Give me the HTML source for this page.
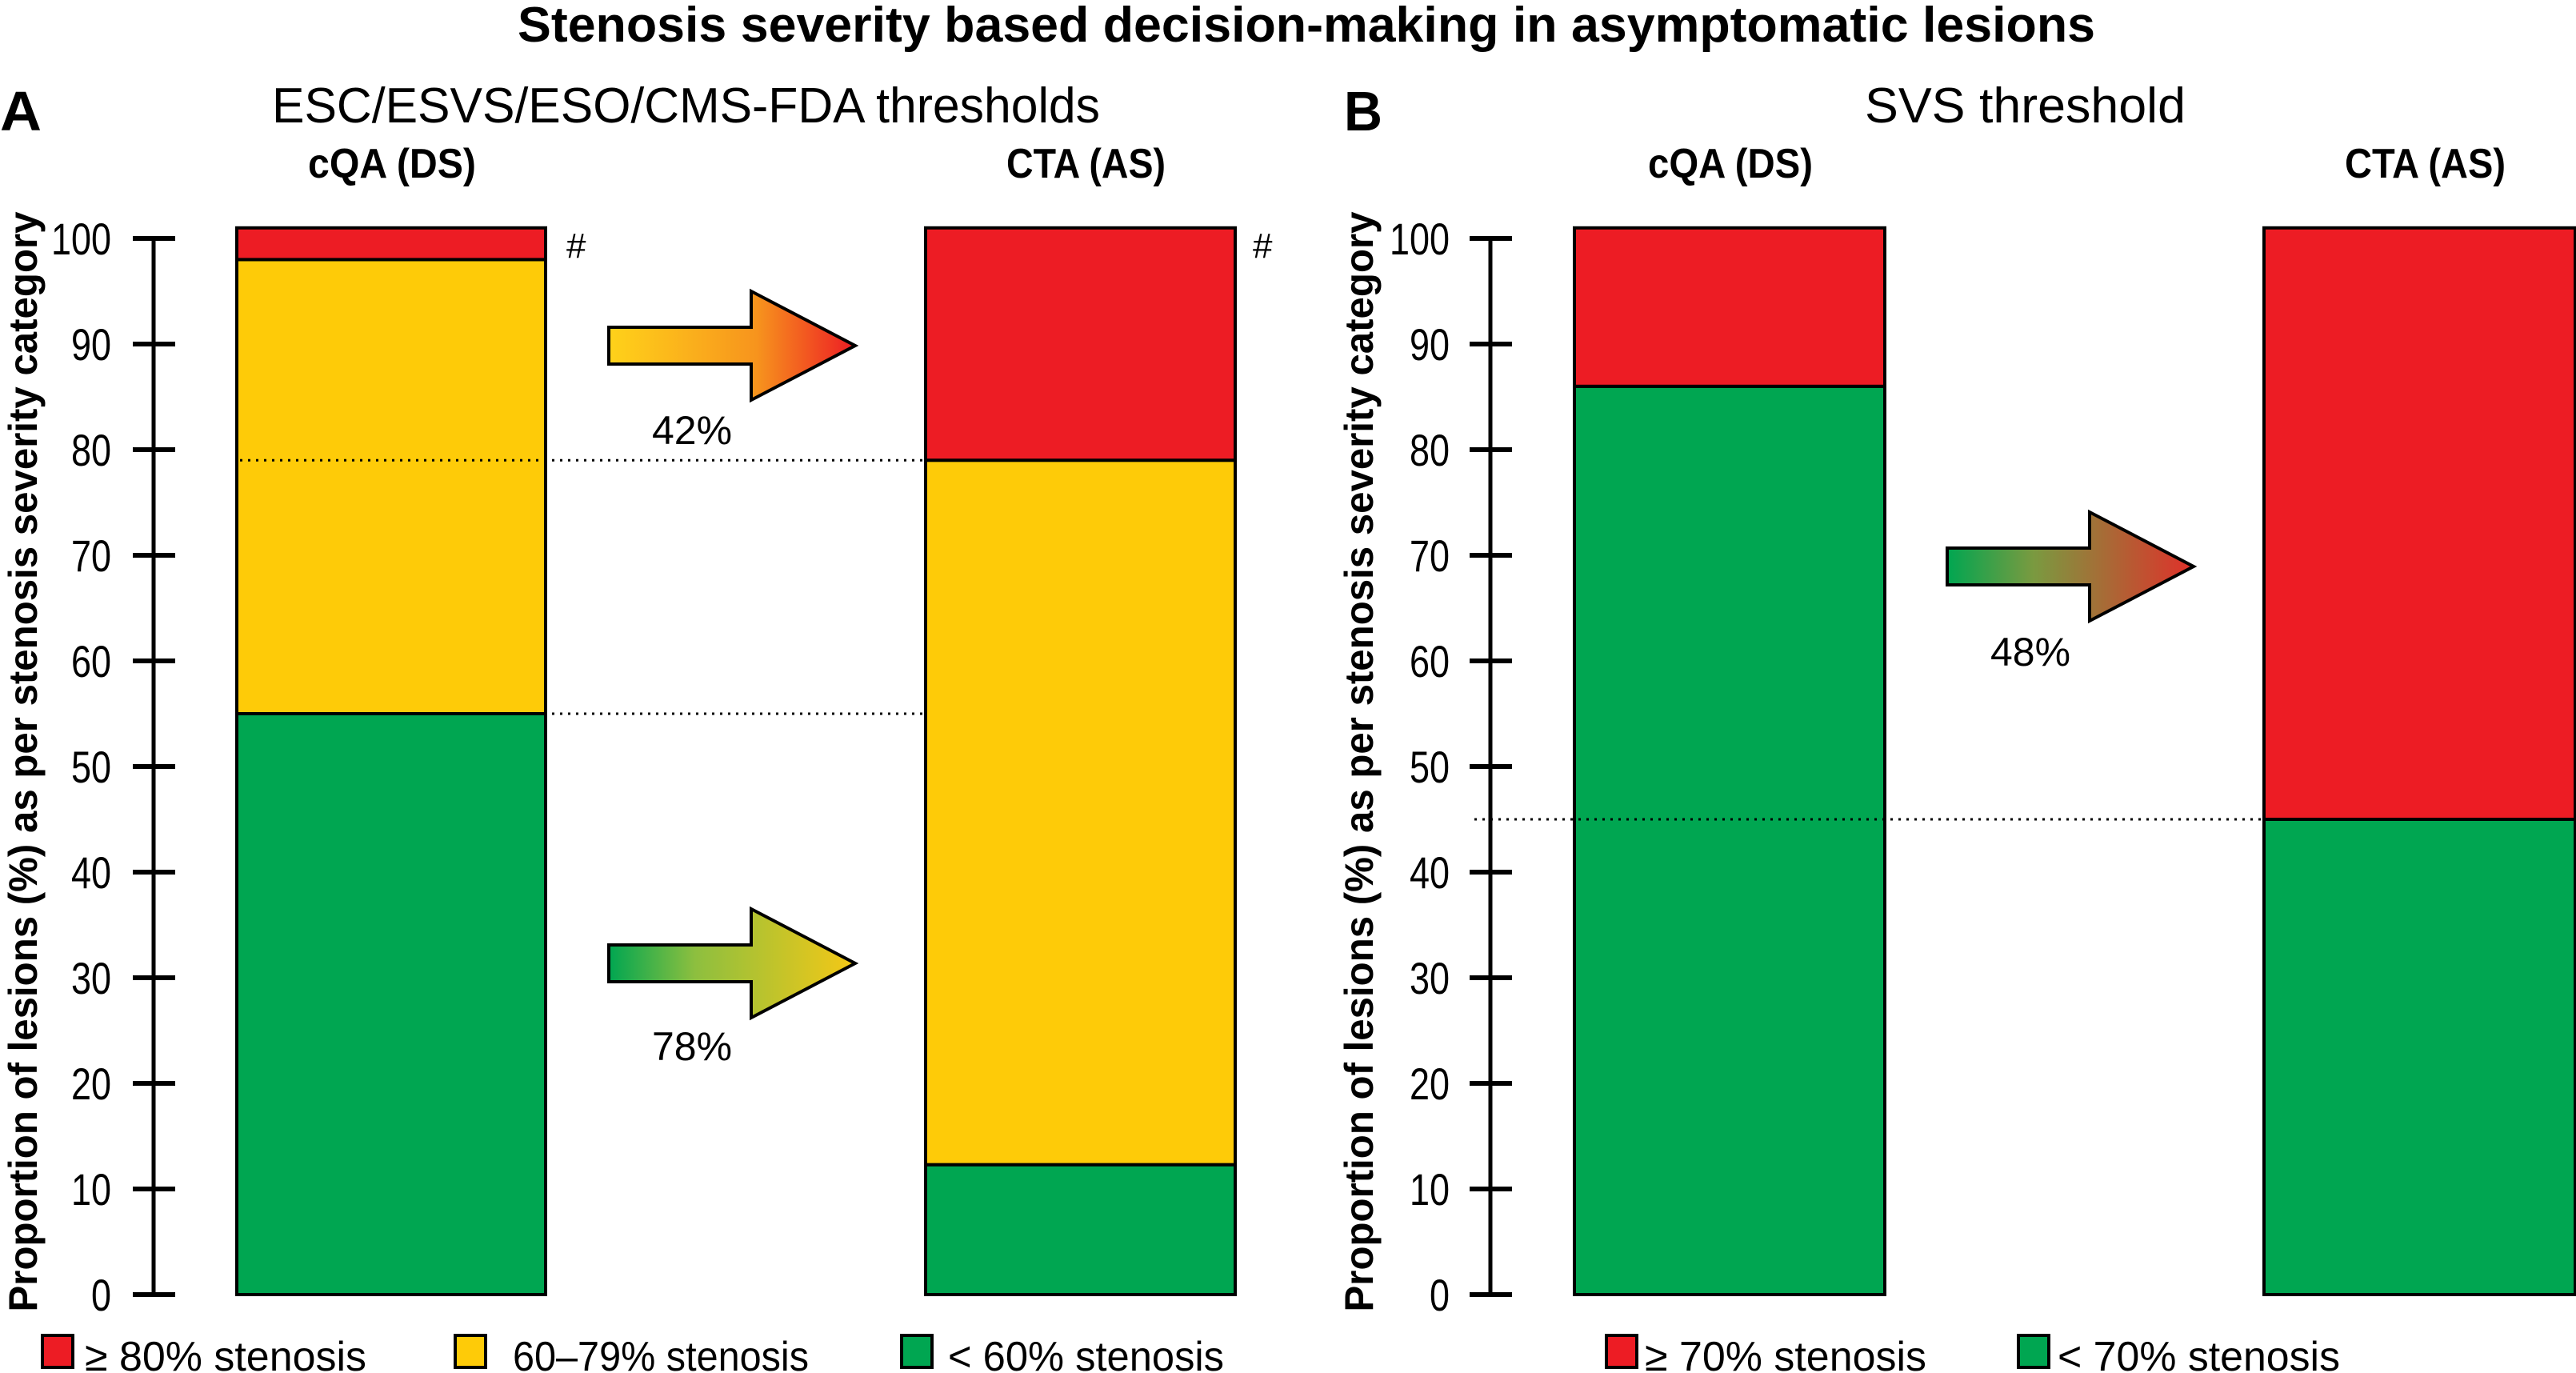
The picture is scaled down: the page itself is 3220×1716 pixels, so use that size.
<!DOCTYPE html>
<html><head><meta charset="utf-8"><style>
html,body{margin:0;padding:0;background:#fff;}
svg{display:block;font-family:"Liberation Sans",sans-serif;}
</style></head><body>
<svg id="chart" width="3220" height="1716" viewBox="0 0 3220 1716" xmlns="http://www.w3.org/2000/svg">
<defs>
<linearGradient id="gA" x1="0" x2="1" y1="0" y2="0"><stop offset="0" stop-color="#FFD21A"/><stop offset="0.6" stop-color="#F7941D"/><stop offset="1" stop-color="#ED1C24"/></linearGradient>
<linearGradient id="gB" x1="0" x2="1" y1="0" y2="0"><stop offset="0" stop-color="#00A651"/><stop offset="0.35" stop-color="#8DBF3F"/><stop offset="1" stop-color="#F5C816"/></linearGradient>
<linearGradient id="gC" x1="0" x2="1" y1="0" y2="0"><stop offset="0" stop-color="#00A651"/><stop offset="0.35" stop-color="#7A9A40"/><stop offset="1" stop-color="#E0302A"/></linearGradient>
</defs>
<text x="647" y="52" font-size="62" font-weight="bold" textLength="1972" lengthAdjust="spacingAndGlyphs">Stenosis severity based decision-making in asymptomatic lesions</text>
<text x="0" y="163" font-size="70" font-weight="bold" textLength="52" lengthAdjust="spacingAndGlyphs">A</text>
<text x="340" y="153" font-size="62" textLength="1035" lengthAdjust="spacingAndGlyphs">ESC/ESVS/ESO/CMS-FDA thresholds</text>
<text x="1680" y="163" font-size="70" font-weight="bold" textLength="48" lengthAdjust="spacingAndGlyphs">B</text>
<text x="2331" y="153" font-size="62" textLength="401" lengthAdjust="spacingAndGlyphs">SVS threshold</text>
<text x="385" y="222" font-size="52" font-weight="bold" textLength="210" lengthAdjust="spacingAndGlyphs">cQA (DS)</text>
<text x="1258" y="222" font-size="52" font-weight="bold" textLength="199" lengthAdjust="spacingAndGlyphs">CTA (AS)</text>
<text x="2060" y="222" font-size="52" font-weight="bold" textLength="206" lengthAdjust="spacingAndGlyphs">cQA (DS)</text>
<text x="2931" y="222" font-size="52" font-weight="bold" textLength="201" lengthAdjust="spacingAndGlyphs">CTA (AS)</text>
<text x="708" y="322" font-size="44">#</text>
<text x="1566" y="322" font-size="44">#</text>
<g id="marks"></g>
</svg>
<script>
const ticks=[0,10,20,30,40,50,60,70,80,90,100];
const catsA=["cQA (DS)","CTA (AS)"];
const greenA=[55,12.3];
const yellowA=[43,66.7];
const redA=[3,22];
const catsB=["cQA (DS)","CTA (AS)"];
const greenB=[86,45];
const redB=[15,56];
const arrowPct=["42%","78%","48%"];
const legendA=["≥ 80% stenosis","60–79% stenosis","< 60% stenosis"];
const legendB=["≥ 70% stenosis","< 70% stenosis"];

const NS="http://www.w3.org/2000/svg";
const g=document.getElementById('marks');
const y0=1618,ppu=13.2;
function Y(v){return y0-v*ppu;}
function el(t,a,txt){const e=document.createElementNS(NS,t);for(const k in a)e.setAttribute(k,a[k]);if(txt!==undefined)e.textContent=txt;g.appendChild(e);return e;}
const RED="#ED1C24",YEL="#FECB08",GRN="#00A651";

function axis(ax,labelRight,titleX,name){
  const l=el('line',{x1:ax,x2:ax,y1:Y(0),y2:Y(100),stroke:'#000','stroke-width':5});
  
  
  ticks.forEach(t=>{
    const tk=el('line',{x1:ax-26,x2:ax+27,y1:Y(t),y2:Y(t),stroke:'#000','stroke-width':6});
    
    
    const tl=el('text',{x:labelRight,y:Y(t)+20,'font-size':56,'text-anchor':'end',textLength:String(t).length*25,lengthAdjust:'spacingAndGlyphs'},t);
    
    
  });
  const tt=el('text',{x:0,y:0,'font-size':50,'font-weight':'bold','text-anchor':'middle',transform:`translate(${titleX},952) rotate(-90)`,textLength:1375,lengthAdjust:'spacingAndGlyphs'},'Proportion of lesions (%) as per stenosis severity category');
  
  
}
axis(192,139,46,'panel-a');
axis(1863,1812,1716,'panel-b');

function seg(x,w,lo,hi,fill,name){
  const r=el('rect',{x:x,y:Y(hi),width:w,height:Y(lo)-Y(hi),fill:fill,stroke:'#000','stroke-width':4});
  
  
}
const xA=[296,1157],xB=[1968,2830],wA=[386,387],wB=[388,389];
catsA.forEach((c,i)=>{
  seg(xA[i],wA[i],0,greenA[i],GRN,'bar-a-'+i+'-green');
  seg(xA[i],wA[i],greenA[i],greenA[i]+yellowA[i],YEL,'bar-a-'+i+'-yellow');
  seg(xA[i],wA[i],greenA[i]+yellowA[i],greenA[i]+yellowA[i]+redA[i],RED,'bar-a-'+i+'-red');
});
catsB.forEach((c,i)=>{
  seg(xB[i],wB[i],0,greenB[i],GRN,'bar-b-'+i+'-green');
  seg(xB[i],wB[i],greenB[i],greenB[i]+redB[i],RED,'bar-b-'+i+'-red');
});
function dotted(x1,x2,v,name){
  const d=el('line',{x1:x1,x2:x2,y1:Y(v),y2:Y(v),stroke:'#000','stroke-width':3,'stroke-dasharray':'3 7'});
  
  
}
dotted(300,1157,greenA[1]+yellowA[1],'dotted-line-79');
dotted(300,1157,greenA[0],'dotted-line-55');
dotted(1843,2830,greenB[1],'dotted-line-45');

function arrow(bx,tx,tip,bh,hh,fill,lbl,ly,name){
  const hx=bx+178;
  const p=el('polygon',{points:`${bx},${tip-bh} ${hx},${tip-bh} ${hx},${tip-hh} ${tx},${tip} ${hx},${tip+hh} ${hx},${tip+bh} ${bx},${tip+bh}`,fill:fill,stroke:'#000','stroke-width':4});
  
  
  const t=el('text',{x:(bx+tx)/2+-50,y:ly,'font-size':50,'text-anchor':'middle',textLength:100,lengthAdjust:'spacingAndGlyphs'},lbl);
  
  
}
arrow(761,1069,432,23,68,'url(#gA)',arrowPct[0],555,'arrow-yellow-to-red');
arrow(761,1069,1204,23,68,'url(#gB)',arrowPct[1],1325,'arrow-green-to-yellow');
arrow(2434,2742,708,23,68,'url(#gC)',arrowPct[2],832,'arrow-green-to-red');

function legend(items,sq,tx,tw,cols,pfx){
  items.forEach((s,i)=>{
    const r=el('rect',{x:sq[i],y:1669,width:38,height:40,fill:cols[i],stroke:'#000','stroke-width':4});
    
    
    const t=el('text',{x:tx[i],y:1713,'font-size':52,textLength:tw[i],lengthAdjust:'spacingAndGlyphs'},s);
    
    
  });
}
legend(legendA,[53,569,1127],[106,641,1185],[352,370,345],[RED,YEL,GRN],'panel-a');
legend(legendB,[2008,2523],[2056,2572],[352,353],[RED,GRN],'panel-b');
</script>
</body></html>
